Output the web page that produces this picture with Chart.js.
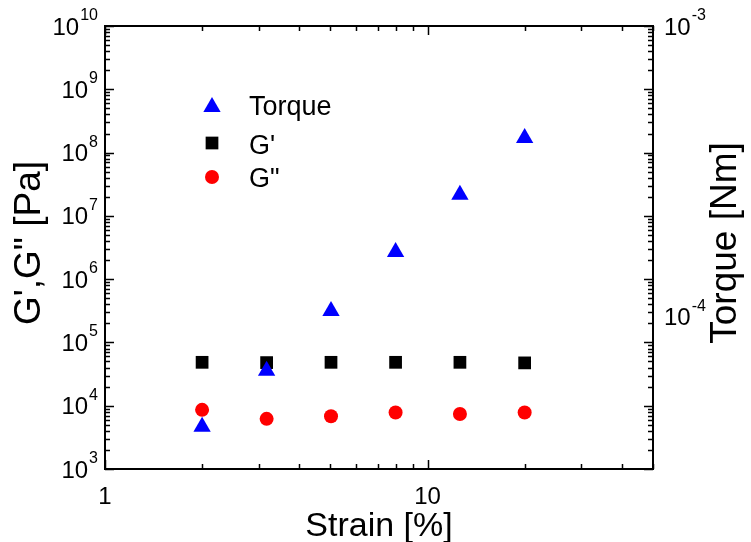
<!DOCTYPE html>
<html><head><meta charset="utf-8">
<script src="https://cdn.jsdelivr.net/npm/chart.js@4/dist/chart.umd.min.js"></script>
<style>html,body{margin:0;padding:0;background:#fff;}#wrap{width:751px;height:542px;position:relative}</style>
</head><body><div id="wrap"><canvas id="c" width="751" height="542"></canvas></div>
<script>
const strain = [2, 3.17, 5.02, 7.96, 12.6, 20];
const torque = [4.19e-5, 6.53e-5, 1.047e-4, 1.67e-4, 2.63e-4, 4.12e-4];
const gPrime = [4.85e4, 4.8e4, 4.85e4, 4.85e4, 4.85e4, 4.75e4];
const gDouble = [8.6e3, 6.2e3, 6.8e3, 7.8e3, 7.4e3, 7.8e3];
const xTickLabels = ['1', '10'];
const leftTickExps = [3, 4, 5, 6, 7, 8, 9, 10];
const rightTickExps = [-4, -3];
const seriesNames = ['Torque', "G'", 'G"'];
const axisTitles = {x: 'Strain [%]', y: 'G\',G" [Pa]', y2: 'Torque [Nm]'};

const FONT = 'Arial, "Liberation Sans", sans-serif';

function pts(xs, ys) { return xs.map((x, i) => ({x: x, y: ys[i]})); }

const framePlugin = {
  id: 'frame',
  afterDraw(chart) {
    const ctx = chart.ctx;
    const {left, right, top, bottom} = chart.chartArea;
    const xs = chart.scales.x, ys = chart.scales.y, y2 = chart.scales.y2;
    ctx.save();
    ctx.strokeStyle = '#000';
    ctx.lineWidth = 2;
    ctx.strokeRect(left, top, right - left, bottom - top);
    ctx.lineWidth = 1.5;
    ctx.beginPath();
    for (const d of [1, 10]) {
      for (let m = 1; m <= 9; m++) {
        const v = m * d;
        if (v < xs.min || v > xs.max) continue;
        const px = Math.round(xs.getPixelForValue(v)) + 0.5;
        const len = m === 1 ? 9 : 5;
        ctx.moveTo(px, bottom); ctx.lineTo(px, bottom - len);
        ctx.moveTo(px, top); ctx.lineTo(px, top + len);
      }
    }
    for (let e = 3; e <= 10; e++) {
      for (let m = 1; m <= 9; m++) {
        const v = m * Math.pow(10, e);
        if (v < ys.min * 0.999 || v > ys.max * 1.001) continue;
        const py = Math.round(ys.getPixelForValue(v)) + 0.5;
        const len = m === 1 ? 9 : 5;
        ctx.moveTo(left, py); ctx.lineTo(left + len, py);
        ctx.moveTo(right, py); ctx.lineTo(right - len, py);
      }
    }
    ctx.stroke();

    ctx.fillStyle = '#000';
    const baseF = '24px ' + FONT, expF = '16px ' + FONT;
    ctx.textBaseline = 'alphabetic';
    for (const e of leftTickExps) {
      const py = ys.getPixelForValue(Math.pow(10, e));
      ctx.font = expF; const ew = ctx.measureText(String(e)).width;
      ctx.textAlign = 'right';
      ctx.fillText(String(e), left - 7, py - 6);
      ctx.font = baseF;
      ctx.fillText('10', left - 8 - ew, py + 8.5);
    }
    for (const e of rightTickExps) {
      const py = y2.getPixelForValue(Math.pow(10, e));
      ctx.font = baseF; ctx.textAlign = 'left';
      const bw = ctx.measureText('10').width;
      ctx.fillText('10', right + 11, py + 8.5);
      ctx.font = expF;
      ctx.fillText(String(e), right + 12 + bw, py - 6);
    }
    ctx.font = baseF; ctx.textAlign = 'center';
    for (const t of xTickLabels) {
      ctx.fillText(t, xs.getPixelForValue(Number(t)), 504);
    }
    ctx.font = '34px ' + FONT;
    ctx.textAlign = 'center';
    ctx.fillText(axisTitles.x, (left + right) / 2, 536);
    ctx.font = '37px ' + FONT;
    ctx.save();
    ctx.translate(30, 243); ctx.rotate(-Math.PI / 2);
    ctx.textBaseline = 'middle';
    ctx.fillText(axisTitles.y, 0, 0);
    ctx.restore();
    ctx.save();
    ctx.translate(726, 243); ctx.rotate(-Math.PI / 2);
    ctx.textBaseline = 'middle';
    ctx.fillText(axisTitles.y2, 0, 0);
    ctx.restore();
    ctx.restore();

    const legY = [107, 143, 177];
    const txtY = [115, 154, 187];
    chart.data.datasets.forEach((ds, i) => {
      ctx.save();
      ctx.fillStyle = ds.backgroundColor;
      ctx.strokeStyle = ds.backgroundColor;
      ctx.lineWidth = 0.01;
      Chart.helpers.drawPoint(ctx, {pointStyle: ds.pointStyle, radius: ds.pointRadius, rotation: 0, borderWidth: 0}, 212, legY[i]);
      ctx.fillStyle = '#000';
      ctx.font = '27px ' + FONT;
      ctx.textAlign = 'left';
      ctx.textBaseline = 'alphabetic';
      ctx.fillText(seriesNames[i], 249, txtY[i]);
      ctx.restore();
    });
  }
};

new Chart(document.getElementById('c'), {
  type: 'scatter',
  data: {
    datasets: [
      {label: seriesNames[0], data: pts(strain, torque), yAxisID: 'y2',
       pointStyle: 'triangle', pointRadius: 10, backgroundColor: '#0000ff', borderColor: '#0000ff', borderWidth: 0},
      {label: seriesNames[1], data: pts(strain, gPrime), yAxisID: 'y',
       pointStyle: 'rect', pointRadius: 9, backgroundColor: '#000000', borderColor: '#000000', borderWidth: 0},
      {label: seriesNames[2], data: pts(strain, gDouble), yAxisID: 'y',
       pointStyle: 'circle', pointRadius: 7, backgroundColor: '#ff0000', borderColor: '#ff0000', borderWidth: 0}
    ]
  },
  options: {
    responsive: false, animation: false, devicePixelRatio: 1,
    layout: {padding: {left: 105, right: 98, top: 26, bottom: 73}},
    plugins: {legend: {display: false}, tooltip: {enabled: false}},
    elements: {point: {hoverRadius: 10}},
    scales: {
      x: {type: 'logarithmic', min: 1, max: 50, display: false},
      y: {type: 'logarithmic', min: 1e3, max: 1e10, display: false, position: 'left'},
      y2: {type: 'logarithmic', min: 3e-5, max: 1e-3, display: false, position: 'right'}
    }
  },
  plugins: [framePlugin]
});
</script>
</body></html>
